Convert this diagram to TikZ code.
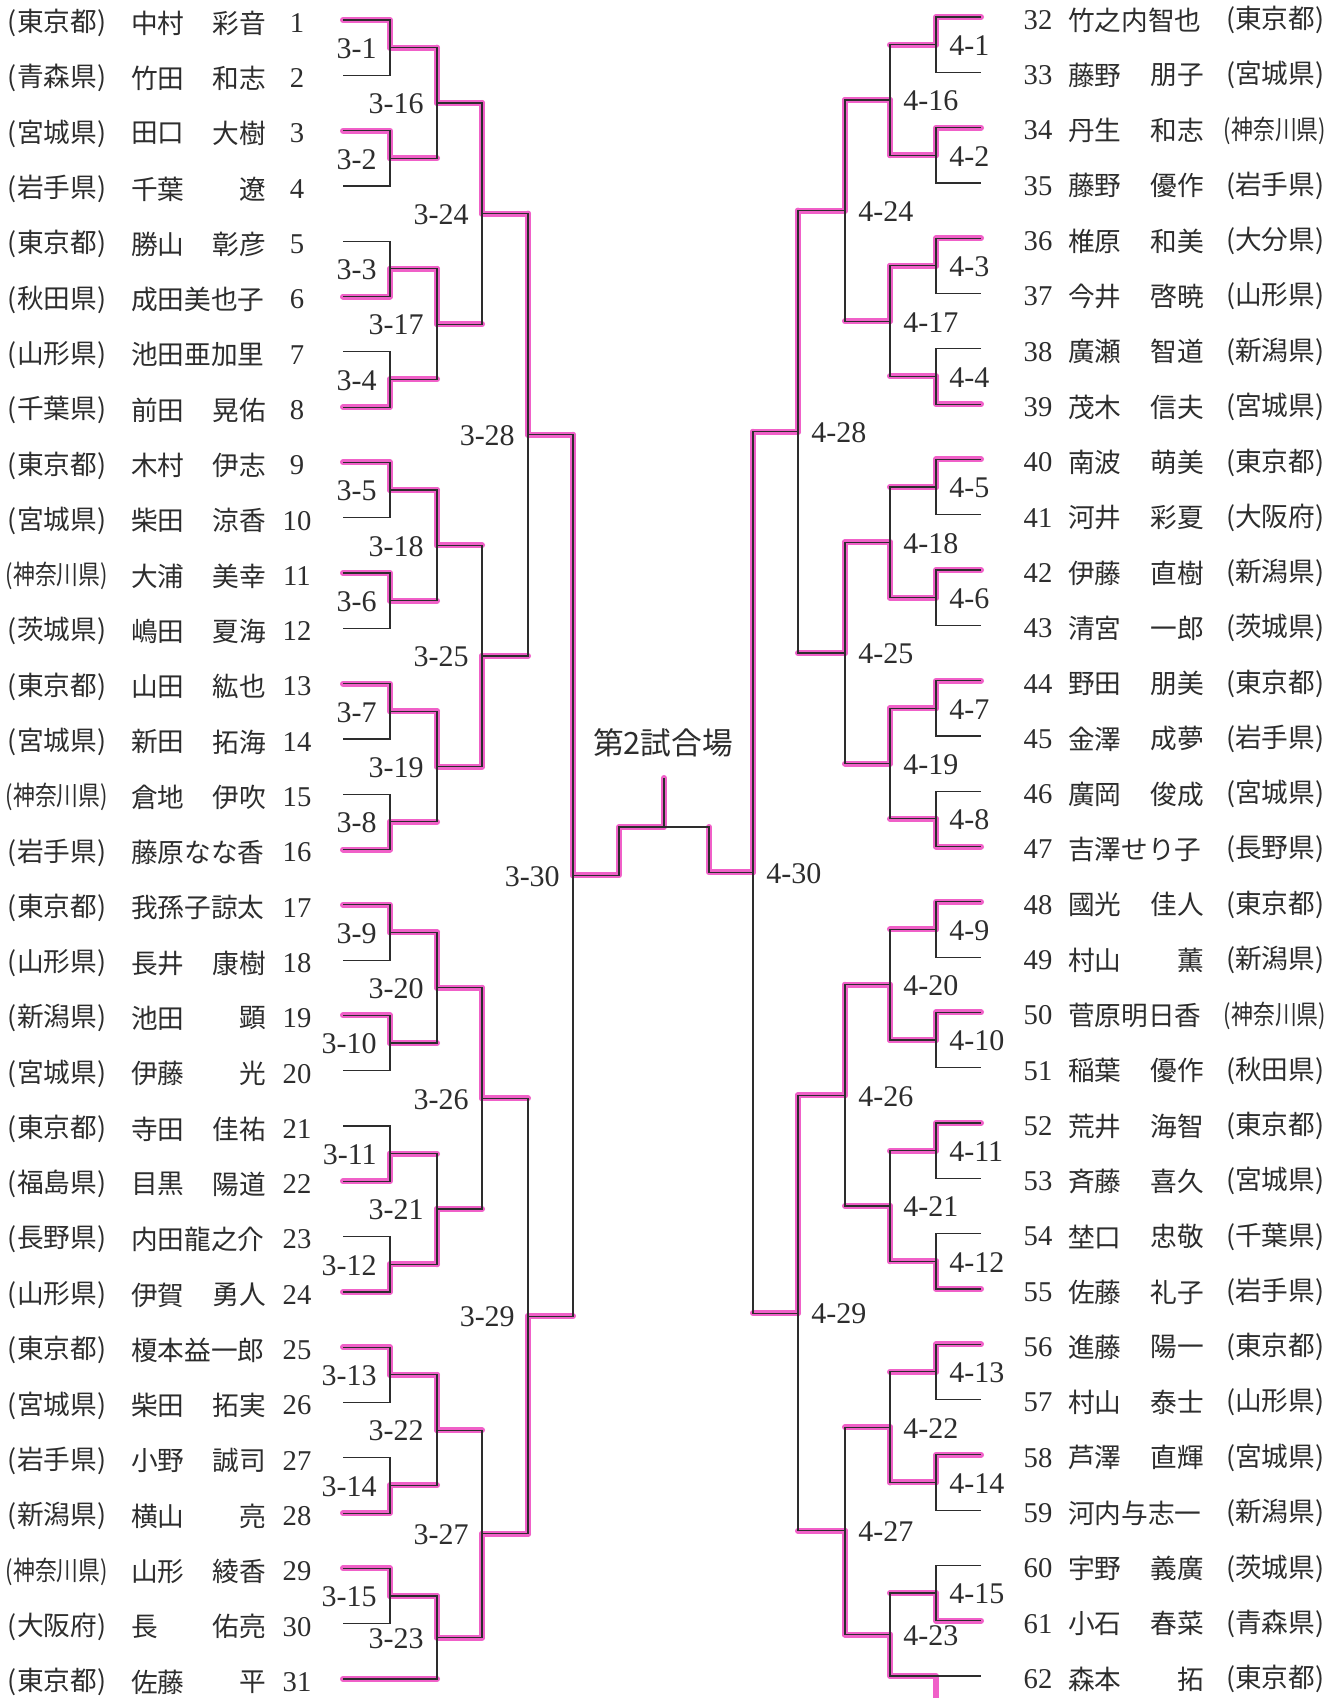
\documentclass[tikz,border=0pt]{standalone}
\usepackage{fontspec}
\usepackage{graphicx}
\setmainfont{Liberation Serif}
\newfontfamily\jp{Noto Sans CJK JP}
\usetikzlibrary{calc}
\pgfdeclarelayer{bglayer}
\pgfdeclarelayer{pinklayer}
\pgfsetlayers{bglayer,pinklayer,main}
\definecolor{pk}{RGB}{240,96,200}
\definecolor{ink}{RGB}{45,45,45}
\newcommand\kanagawa{\scalebox{0.82}[1]{(神奈川県)}}
\tikzset{
  pkline/.style={draw=pk, line width=4.5pt, line cap=round, line join=round},
  bline/.style={draw=ink, line width=0.9pt},
  lab/.style={font=\fontsize{22.5pt}{24pt}\selectfont, inner sep=0pt, text=ink},
  lL/.style={lab, anchor=east, xshift=-9.75pt, yshift=-0.75pt},
  lR/.style={lab, anchor=west, xshift=9.75pt, yshift=-0.75pt},
  num/.style={font=\fontsize{21.5pt}{23pt}\selectfont, inner sep=0pt, text=ink},
  nm/.style={font=\jp\fontsize{20pt}{22pt}\selectfont, inner sep=0pt, text=ink},
}
% round-one match: name, top, bottom, column, winner, label, label style
\newcommand\rone[7]{%
  \path ($(#2)!0.5!(#3)$) coordinate (#1t);
  \coordinate (#1) at (#1t -| #4);
  \begin{pgfonlayer}{pinklayer}
    \draw[pkline] (#5) -- (#5 -| #1) -- (#1);
  \end{pgfonlayer}
  \draw[bline] (#2) -- (#2 -| #1) -- (#3 -| #1) -- (#3);
  \node[#7] (#1lab) at (#1) {#6};
}
% later match: both incoming lines marked
\newcommand\rnext[7]{%
  \path ($(#2)!0.5!(#3)$) coordinate (#1t);
  \coordinate (#1) at (#1t -| #4);
  \begin{pgfonlayer}{pinklayer}
    \draw[pkline] (#2) -- (#2 -| #1);
    \draw[pkline] (#3) -- (#3 -| #1);
    \draw[pkline] (#5 -| #1) -- (#1);
  \end{pgfonlayer}
  \draw[bline] (#2) -- (#2 -| #1) -- (#3 -| #1) -- (#3);
  \node[#7] (#1lab) at (#1) {#6};
}
\begin{document}
\begin{tikzpicture}[x=0.75pt, y=-0.75pt]
\begin{pgfonlayer}{bglayer}
\fill[white] (0,0) rectangle (1341,1698);
\end{pgfonlayer}
\useasboundingbox (0,0) rectangle (1341,1698);

% columns
\coordinate (cL1) at (390,0); \coordinate (cL2) at (437,0); \coordinate (cL3) at (482,0);
\coordinate (cL4) at (528,0); \coordinate (cL5) at (573,0);
\coordinate (cR1) at (936,0); \coordinate (cR2) at (890,0); \coordinate (cR3) at (845,0);
\coordinate (cR4) at (798,0); \coordinate (cR5) at (753,0);
\coordinate (bot) at (0,1698);

% left entries
\foreach \i/\p/\f/\g in {
1/{(東京都)}/中村/彩音, 2/{(青森県)}/竹田/和志, 3/{(宮城県)}/田口/大樹, 4/{(岩手県)}/千葉/遼,
5/{(東京都)}/勝山/彰彦, 6/{(秋田県)}/成田美也子/{}, 7/{(山形県)}/池田亜加里/{}, 8/{(千葉県)}/前田/晃佑,
9/{(東京都)}/木村/伊志, 10/{(宮城県)}/柴田/涼香, 11/{\kanagawa}/大浦/美幸, 12/{(茨城県)}/嶋田/夏海,
13/{(東京都)}/山田/紘也, 14/{(宮城県)}/新田/拓海, 15/{\kanagawa}/倉地/伊吹, 16/{(岩手県)}/藤原なな香/{},
17/{(東京都)}/我孫子諒太/{}, 18/{(山形県)}/長井/康樹, 19/{(新潟県)}/池田/顕, 20/{(宮城県)}/伊藤/光,
21/{(東京都)}/寺田/佳祐, 22/{(福島県)}/目黒/陽道, 23/{(長野県)}/内田龍之介/{}, 24/{(山形県)}/伊賀/勇人,
25/{(東京都)}/榎本益一郎/{}, 26/{(宮城県)}/柴田/拓実, 27/{(岩手県)}/小野/誠司, 28/{(新潟県)}/横山/亮,
29/{\kanagawa}/山形/綾香, 30/{(大阪府)}/長/佑亮, 31/{(東京都)}/佐藤/平}{
  \node[nm] (lp\i) at (57,{23+55.3*(\i-1)}) {\p};
  \node[nm, anchor=west] (lf\i) at (131,{23+55.3*(\i-1)}) {\f};
  \node[nm, anchor=east] (lg\i) at (266,{23+55.3*(\i-1)}) {\g};
  \node[num] (ln\i) at (297,{23+55.3*(\i-1)}) {\i};
  \coordinate (L\i) at (343,{20+55.3*(\i-1)});
}

% right entries
\foreach \i/\f/\g/\p in {
32/竹之内智也/{}/{(東京都)}, 33/藤野/朋子/{(宮城県)}, 34/丹生/和志/{\kanagawa}, 35/藤野/優作/{(岩手県)},
36/椎原/和美/{(大分県)}, 37/今井/啓暁/{(山形県)}, 38/廣瀬/智道/{(新潟県)}, 39/茂木/信夫/{(宮城県)},
40/南波/萌美/{(東京都)}, 41/河井/彩夏/{(大阪府)}, 42/伊藤/直樹/{(新潟県)}, 43/清宮/一郎/{(茨城県)},
44/野田/朋美/{(東京都)}, 45/金澤/成夢/{(岩手県)}, 46/廣岡/俊成/{(宮城県)}, 47/吉澤せり子/{}/{(長野県)},
48/國光/佳人/{(東京都)}, 49/村山/薫/{(新潟県)}, 50/菅原明日香/{}/{\kanagawa}, 51/稲葉/優作/{(秋田県)},
52/荒井/海智/{(東京都)}, 53/斉藤/喜久/{(宮城県)}, 54/埜口/忠敬/{(千葉県)}, 55/佐藤/礼子/{(岩手県)},
56/進藤/陽一/{(東京都)}, 57/村山/泰士/{(山形県)}, 58/芦澤/直輝/{(宮城県)}, 59/河内与志一/{}/{(新潟県)},
60/宇野/義廣/{(茨城県)}, 61/小石/春菜/{(青森県)}, 62/森本/拓/{(東京都)}}{
  \node[num] (rn\i) at (1038,{20+55.3*(\i-32)}) {\i};
  \node[nm, anchor=west] (rf\i) at (1068,{20+55.3*(\i-32)}) {\f};
  \node[nm, anchor=east] (rg\i) at (1204,{20+55.3*(\i-32)}) {\g};
  \node[nm] (rp\i) at (1275,{20+55.3*(\i-32)}) {\p};
  \coordinate (R\i) at (981,{17+55.3*(\i-32)});
}

% left bracket
\rone{a1}{L1}{L2}{cL1}{L1}{3-1}{lL}
\rone{a2}{L3}{L4}{cL1}{L3}{3-2}{lL}
\rone{a3}{L5}{L6}{cL1}{L6}{3-3}{lL}
\rone{a4}{L7}{L8}{cL1}{L8}{3-4}{lL}
\rone{a5}{L9}{L10}{cL1}{L9}{3-5}{lL}
\rone{a6}{L11}{L12}{cL1}{L11}{3-6}{lL}
\rone{a7}{L13}{L14}{cL1}{L13}{3-7}{lL}
\rone{a8}{L15}{L16}{cL1}{L16}{3-8}{lL}
\rone{a9}{L17}{L18}{cL1}{L17}{3-9}{lL}
\rone{a10}{L19}{L20}{cL1}{L19}{3-10}{lL}
\rone{a11}{L21}{L22}{cL1}{L22}{3-11}{lL}
\rone{a12}{L23}{L24}{cL1}{L24}{3-12}{lL}
\rone{a13}{L25}{L26}{cL1}{L25}{3-13}{lL}
\rone{a14}{L27}{L28}{cL1}{L28}{3-14}{lL}
\rone{a15}{L29}{L30}{cL1}{L29}{3-15}{lL}
\rnext{a16}{a1}{a2}{cL2}{a1}{3-16}{lL}
\rnext{a17}{a3}{a4}{cL2}{a3}{3-17}{lL}
\rnext{a18}{a5}{a6}{cL2}{a5}{3-18}{lL}
\rnext{a19}{a7}{a8}{cL2}{a7}{3-19}{lL}
\rnext{a20}{a9}{a10}{cL2}{a9}{3-20}{lL}
\rnext{a21}{a11}{a12}{cL2}{a12}{3-21}{lL}
\rnext{a22}{a13}{a14}{cL2}{a13}{3-22}{lL}
\rnext{a23}{a15}{L31}{cL2}{a15}{3-23}{lL}
\rnext{a24}{a16}{a17}{cL3}{a16}{3-24}{lL}
\rnext{a25}{a18}{a19}{cL3}{a19}{3-25}{lL}
\rnext{a26}{a20}{a21}{cL3}{a20}{3-26}{lL}
\rnext{a27}{a22}{a23}{cL3}{a23}{3-27}{lL}
\rnext{a28}{a24}{a25}{cL4}{a24}{3-28}{lL}
\rnext{a29}{a26}{a27}{cL4}{a27}{3-29}{lL}
\rnext{a30}{a28}{a29}{cL5}{a28}{3-30}{lL}

% right bracket
\rone{b1}{R32}{R33}{cR1}{R32}{4-1}{lR}
\rone{b2}{R34}{R35}{cR1}{R34}{4-2}{lR}
\rone{b3}{R36}{R37}{cR1}{R36}{4-3}{lR}
\rone{b4}{R38}{R39}{cR1}{R39}{4-4}{lR}
\rone{b5}{R40}{R41}{cR1}{R40}{4-5}{lR}
\rone{b6}{R42}{R43}{cR1}{R42}{4-6}{lR}
\rone{b7}{R44}{R45}{cR1}{R44}{4-7}{lR}
\rone{b8}{R46}{R47}{cR1}{R47}{4-8}{lR}
\rone{b9}{R48}{R49}{cR1}{R48}{4-9}{lR}
\rone{b10}{R50}{R51}{cR1}{R50}{4-10}{lR}
\rone{b11}{R52}{R53}{cR1}{R52}{4-11}{lR}
\rone{b12}{R54}{R55}{cR1}{R55}{4-12}{lR}
\rone{b13}{R56}{R57}{cR1}{R56}{4-13}{lR}
\rone{b14}{R58}{R59}{cR1}{R58}{4-14}{lR}
\rone{b15}{R60}{R61}{cR1}{R61}{4-15}{lR}
\rnext{b16}{b1}{b2}{cR2}{b2}{4-16}{lR}
\rnext{b17}{b3}{b4}{cR2}{b3}{4-17}{lR}
\rnext{b18}{b5}{b6}{cR2}{b6}{4-18}{lR}
\rnext{b19}{b7}{b8}{cR2}{b7}{4-19}{lR}
\rnext{b20}{b9}{b10}{cR2}{b10}{4-20}{lR}
\rnext{b21}{b11}{b12}{cR2}{b12}{4-21}{lR}
\rnext{b22}{b13}{b14}{cR2}{b14}{4-22}{lR}
% 4-23: bye entry 62
\path ($(b15)!0.5!(R62)$) coordinate (b23t);
\coordinate (b23) at (b23t -| cR2);
\begin{pgfonlayer}{pinklayer}
  \draw[pkline] (b15) -- (b15 -| b23);
  \draw[pkline] (bot -| cR1) -- (R62 -| cR1) -- (R62 -| b23) -- (b23);
\end{pgfonlayer}
\draw[bline] (b15) -- (b15 -| b23) -- (R62 -| b23) -- (R62);
\node[lR] (b23lab) at (b23) {4-23};
\rnext{b24}{b16}{b17}{cR3}{b16}{4-24}{lR}
\rnext{b25}{b18}{b19}{cR3}{b18}{4-25}{lR}
\rnext{b26}{b20}{b21}{cR3}{b20}{4-26}{lR}
\rnext{b27}{b22}{b23}{cR3}{b23}{4-27}{lR}
\rnext{b28}{b24}{b25}{cR4}{b24}{4-28}{lR}
\rnext{b29}{b26}{b27}{cR4}{b26}{4-29}{lR}
\rnext{b30}{b28}{b29}{cR5}{b28}{4-30}{lR}

% final
\coordinate (fL) at (619,827);
\coordinate (fR) at (709,827);
\coordinate (fT) at (664,827);
\coordinate (stem) at (664,778);
\begin{pgfonlayer}{pinklayer}
  \draw[pkline] (a30) -- (a30 -| fL) -- (fL) -- (fT) -- (stem);
  \draw[pkline] (b30) -- (b30 -| fR) -- (fR);
\end{pgfonlayer}
\draw[bline] (a30) -- (a30 -| fL) -- (fL) -- (fR) -- (fR |- b30) -- (b30);
\draw[bline] (fT) -- (stem);
\node[nm, font=\jp\fontsize{23pt}{25pt}\selectfont] (title) at (663,743) {第2試合場};
\end{tikzpicture}
\end{document}
